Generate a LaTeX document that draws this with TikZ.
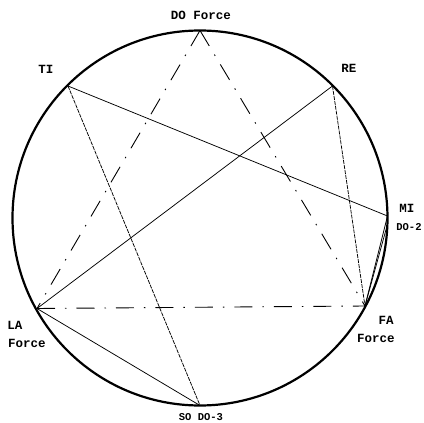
\documentclass[tikz,border=0pt]{standalone}
\usepackage{fontspec}
\setmonofont{Liberation Mono}
\begin{document}
\begin{tikzpicture}[x=1pt,y=-1pt,
  chord/.style={line width=0.75pt},
  fine/.style={line width=0.75pt, dash pattern=on 4pt off 1pt},
  dashdot/.style={line width=0.9pt, dash pattern=on 18pt off 10pt on 1.5pt off 10pt},
  lbl/.style={font=\ttfamily\bfseries\fontsize{12.5}{13}\selectfont, inner sep=0pt},
  lbls/.style={font=\ttfamily\bfseries\fontsize{10.5}{11}\selectfont, inner sep=0pt}]
\useasboundingbox (0,0) rectangle (424,423);
\coordinate (C) at (200,218);
\draw[line width=2.2pt] (C) circle (187.5pt);
\coordinate (DO) at (200,30.5);
\coordinate (TI) at (68,86);
\coordinate (RE) at (332.5,86);
\coordinate (MI) at (387.5,216);
\coordinate (MIb) at (387,226);
\coordinate (FA) at (365,306);
\coordinate (LA) at (37,308.5);
\coordinate (SO) at (200,405.5);
% dash-dot triangle
\draw[dashdot] (DO) -- (LA);
\draw[dashdot] (DO) -- (FA);
\draw[dashdot] (LA) -- (FA);
% chords
\draw[chord] (TI) -- (MI);
\draw[fine] (TI) -- (SO);
\draw[chord] (RE) -- (LA);
\draw[chord] (LA) -- (SO);
\draw[fine] (RE) -- (FA);
\draw[chord] (MI) -- (FA);
\draw[chord] (MIb) -- (FA);
% labels
\node[lbl] (lDO) at (201,15) {DO Force};
\node[lbl] (lTI) at (46,69) {TI};
\node[lbl] (lRE) at (349,68) {RE};
\node[lbl] (lMI) at (407,208) {MI};
\node[lbls] (lDO2) at (409,227) {DO-2};
\node[lbl] (lFA) at (386,320) {FA};
\node[lbl] (lFAf) at (376,338) {Force};
\node[lbl] (lLA) at (15,325) {LA};
\node[lbl] (lLAf) at (27,343) {Force};
\node[lbls] (lSO) at (201,417) {SO DO-3};
\end{tikzpicture}
\end{document}
